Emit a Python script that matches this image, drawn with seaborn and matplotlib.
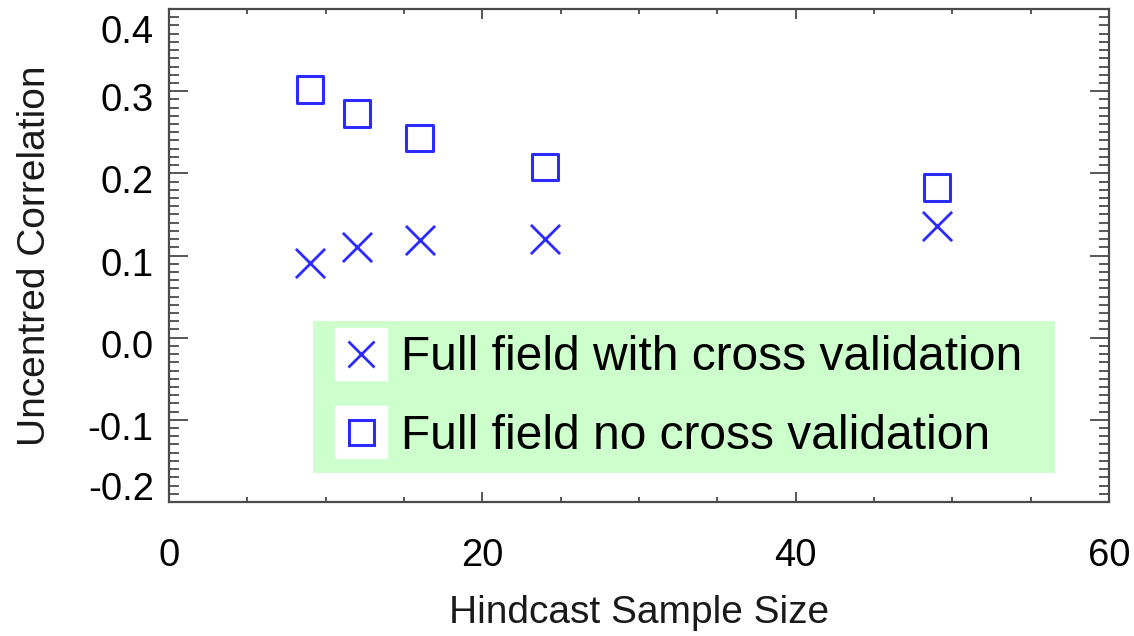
import matplotlib
matplotlib.use("Agg")
import matplotlib.pyplot as plt
import matplotlib.transforms as mtransforms
from matplotlib.lines import Line2D
from matplotlib.legend_handler import HandlerTuple
from matplotlib.ticker import MultipleLocator
import seaborn as sns
import pandas as pd

# Hindcast sample sizes and uncentred correlations
sample_size = [9, 12, 16, 24, 49]
corr_cross_val = [0.091, 0.110, 0.119, 0.120, 0.136]
corr_no_cross_val = [0.302, 0.273, 0.243, 0.208, 0.183]
series_labels = ["Full field with cross validation", "Full field no cross validation"]

x_ticks = [0, 20, 40, 60]
y_ticks = [-0.2, -0.1, 0.0, 0.1, 0.2, 0.3, 0.4]

BLUE = "#2b2bff"
AXIS_GREY = "#4a4a4a"

sns.set_style("ticks")
plt.rcParams["font.family"] = ["Liberation Sans", "DejaVu Sans"]

fig = plt.figure(figsize=(11.34, 6.36), dpi=100)
ax = fig.add_axes([0.149, 0.2107, 0.829, 0.7751])

df = pd.DataFrame({"n": sample_size, "cv": corr_cross_val, "ncv": corr_no_cross_val})

sns.scatterplot(data=df, x="n", y="cv", ax=ax, marker="x", s=21 ** 2,
                color=BLUE, linewidth=2.0, legend=False, zorder=3)
sns.scatterplot(data=df, x="n", y="ncv", ax=ax, marker="s", s=19 ** 2,
                color="none", edgecolor=BLUE, linewidth=2.2, legend=False, zorder=3)

ax.set_xlim(0, 60)
ax.set_ylim(-0.2, 0.4)
ax.set_xticks(x_ticks)
ax.set_yticks(y_ticks)
ax.set_xticklabels([str(v) for v in x_ticks])
ax.set_yticklabels([f"{v:.1f}" for v in y_ticks])
ax.xaxis.set_minor_locator(MultipleLocator(5))
ax.yaxis.set_minor_locator(MultipleLocator(0.01))

ax.tick_params(axis="both", which="both", direction="in", top=True, right=True,
               color=AXIS_GREY, width=1.3, labelcolor="black")
ax.tick_params(axis="y", which="major", length=14, labelsize=27.5, pad=11)
ax.tick_params(axis="y", which="minor", length=7)
ax.tick_params(axis="x", which="major", length=7, labelsize=27.5, pad=26)
ax.tick_params(axis="x", which="minor", length=3.6)

for spine in ax.spines.values():
    spine.set_color(AXIS_GREY)
    spine.set_linewidth(1.6)

ax.set_xlabel("Hindcast Sample Size", fontsize=28, color="#1a1a1a", labelpad=15)
ax.set_ylabel("Uncentred Correlation", fontsize=28, color="#1a1a1a", labelpad=25)

# y tick labels sit slightly below their ticks; end labels kept inside the frame
shift = mtransforms.ScaledTranslation(0, -6 / 100, fig.dpi_scale_trans)
ylabels = ax.get_yticklabels()
for lab in ylabels:
    lab.set_transform(lab.get_transform() + shift)
ylabels[0].set_va("bottom")
ylabels[-1].set_va("top")

# legend handles: marker drawn over a small white tile
white_box = dict(marker="s", markersize=37, color="white", linestyle="none")
h_cv = (Line2D([], [], **white_box),
        Line2D([], [], marker="x", markersize=19, color=BLUE, mew=2.0, linestyle="none"))
h_ncv = (Line2D([], [], **white_box),
         Line2D([], [], marker="s", markersize=18, mfc="none", mec=BLUE, mew=2.2, linestyle="none"))

leg = ax.legend([h_cv, h_ncv], series_labels,
                handler_map={tuple: HandlerTuple(ndivide=1, pad=0)},
                loc="upper left", bbox_to_anchor=(0.153, 0.071, 0.790, 0.296),
                mode="expand", borderaxespad=0, fontsize=34.5, labelcolor="black",
                frameon=True, fancybox=False, facecolor="#ccffcc", edgecolor="none",
                framealpha=1, handlelength=1.4, handletextpad=0.15,
                borderpad=0.3, labelspacing=0.7)
leg.get_frame().set_linewidth(0)

fig.savefig("out.png", dpi=100)
